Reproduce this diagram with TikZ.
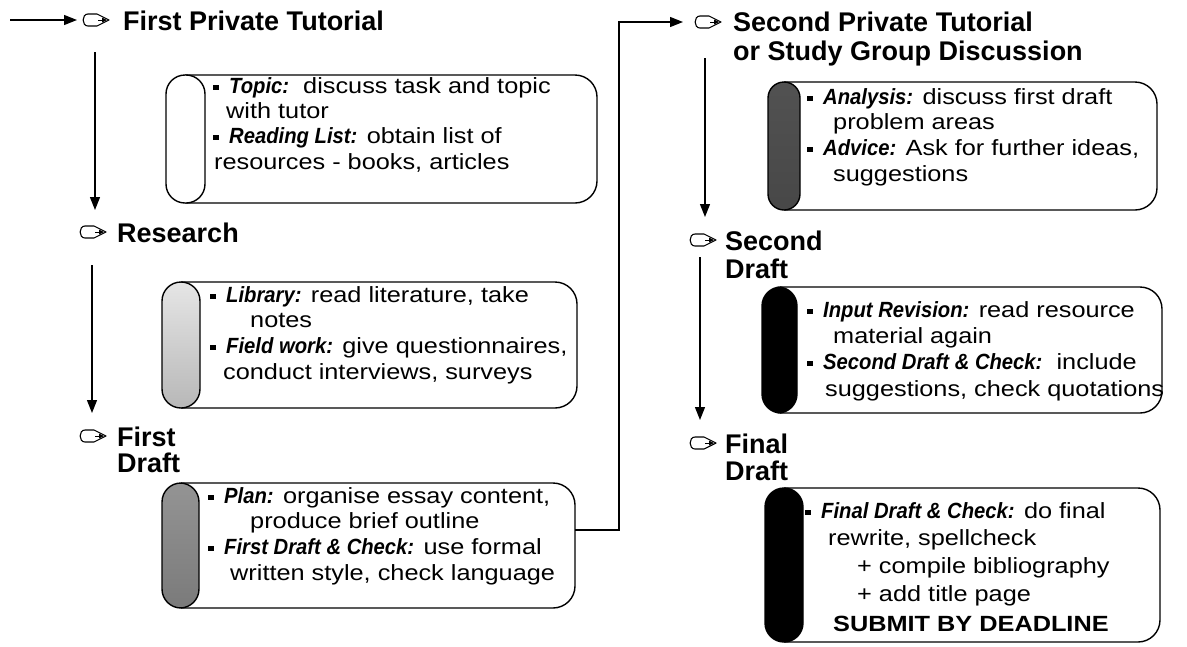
\documentclass[tikz,border=0pt]{standalone}
\usepackage{fontspec}
\setmainfont{Liberation Sans}
\newfontfamily\bodyf[FakeStretch=1.15]{Liberation Sans}
\newfontfamily\bif[FakeStretch=0.92]{Liberation Sans}
\usetikzlibrary{arrows.meta}

\newcommand\bul{\makebox[16pt][l]{\rule[4pt]{6pt}{5pt}}}
\newcommand\bi[1]{{\bif\bfseries\itshape #1}}

\tikzset{
  body/.style={anchor=mid west, inner sep=0pt, font=\bodyf\fontsize{22}{26}\selectfont},
  head/.style={anchor=base west, inner sep=0pt, font=\bfseries\fontsize{27}{30}\selectfont},
  conn/.style={line width=1.3pt, -{Triangle[length=13pt,width=10pt]}},
  boxline/.style={line width=1.4pt, rounded corners=22pt},
  capbox/.style={line width=1.4pt, rounded corners=19pt},
  pointer/.pic={
    \draw[line width=1.1pt, line join=round]
      (14,-6) -- (5,-6) .. controls (-1.5,-6) and (-1.5,6) .. (5,6) -- (14,6) -- (26,0) -- cycle;
    \draw[line width=1pt] (15,0) -- (21,0);
    \fill (19,-2.5) -- (24,0) -- (19,2.5) -- cycle;
  }
}

\begin{document}
\begin{tikzpicture}[x=1pt,y=-1pt]
\useasboundingbox (0,0) rectangle (1187,646);

% ---------- icons (coordinates) ----------
\coordinate (i1) at (83,20);
\coordinate (i2) at (80,232);
\coordinate (i3) at (80,436);
\coordinate (i4) at (695,22);
\coordinate (i5) at (690,240);
\coordinate (i6) at (690,443);
\foreach \c in {i1,i2,i3,i4,i5,i6} { \pic at (\c) {pointer}; }

% ---------- headings ----------
\node[head] (h1) at (123,30) {First Private Tutorial};
\node[head] (h2) at (117,242) {Research};
\node[head] (h3a) at (117,446) {First};
\node[head] (h3b) at (117,472) {Draft};
\node[head] (h4a) at (733,31) {Second Private Tutorial};
\node[head] (h4b) at (733,60) {or Study Group Discussion};
\node[head] (h5a) at (725,250) {Second};
\node[head] (h5b) at (725,278) {Draft};
\node[head] (h6a) at (725,453) {Final};
\node[head] (h6b) at (725,480) {Draft};

% ---------- boxes ----------
% box 1
\draw[boxline] (185,75) -- (597,75) -- (597,203) -- (185,203);
\draw[capbox, fill=white] (166,75) rectangle (205,203);
% box 2
\draw[boxline] (181,282) -- (577,282) -- (577,408) -- (181,408);
\shade[top color=black!10, bottom color=black!28, rounded corners=19pt] (162,282) rectangle (200,408);
\draw[capbox] (162,282) rectangle (200,408);
% box 3
\draw[boxline] (181,483) -- (575,483) -- (575,608) -- (181,608);
\shade[top color=black!42, bottom color=black!52, rounded corners=19pt] (162,483) rectangle (199,608);
\draw[capbox] (162,483) rectangle (199,608);
% box 4
\draw[boxline] (784,82) -- (1157,82) -- (1157,210) -- (784,210);
\shade[top color=black!68, bottom color=black!72, rounded corners=16pt] (768,82) rectangle (800,210);
\draw[capbox, rounded corners=16pt] (768,82) rectangle (800,210);
% box 5
\draw[boxline] (780,287) -- (1162,287) -- (1162,413) -- (780,413);
\draw[capbox, fill=black] (762,287) rectangle (797,413);
% box 6
\draw[boxline] (784,488) -- (1160,488) -- (1160,642) -- (784,642);
\draw[capbox, fill=black] (765,488) rectangle (803,642);

% ---------- box texts ----------
\node[body] (t11) at (213,91)  {\bul\bi{Topic:}\ \ discuss task and topic};
\node[body] (t12) at (226,116) {with tutor};
\node[body] (t13) at (213,141) {\bul\bi{Reading List:} obtain list of};
\node[body] (t14) at (214,167) {resources - books, articles};

\node[body] (t21) at (210,300) {\bul\bi{Library:} read literature, take};
\node[body] (t22) at (250,325) {notes};
\node[body] (t23) at (210,351) {\bul\bi{Field work:} give questionnaires,};
\node[body] (t24) at (223,377) {conduct interviews, surveys};

\node[body] (t31) at (208,501) {\bul\bi{Plan:} organise essay content,};
\node[body] (t32) at (250,526) {produce brief outline};
\node[body] (t33) at (208,552) {\bul\bi{First Draft \& Check:} use formal};
\node[body] (t34) at (230,578) {written style, check language};

\node[body] (t41) at (807,102) {\bul\bi{Analysis:} discuss first draft};
\node[body] (t42) at (833,127) {problem areas};
\node[body] (t43) at (807,153) {\bul\bi{Advice:} Ask for further ideas,};
\node[body] (t44) at (833,179) {suggestions};

\node[body] (t51) at (807,315) {\bul\bi{Input Revision:} read resource};
\node[body] (t52) at (833,341) {material again};
\node[body] (t53) at (807,367) {\bul\bi{Second Draft \& Check:}\ \ include};
\node[body] (t54) at (825,394) {suggestions, check quotations};

\node[body] (t61) at (805,516) {\bul\bi{Final Draft \& Check:} do final};
\node[body] (t62) at (828,543) {rewrite, spellcheck};
\node[body] (t63) at (857,571) {+ compile bibliography};
\node[body] (t64) at (857,599) {+ add title page};
\node[body] (t65) at (833,629) {\textbf{SUBMIT BY DEADLINE}};

% ---------- connectors ----------
\coordinate (s0) at (10,20);
\draw[conn] (s0) -- ([xshift=-6pt]i1);

\coordinate (v1a) at (95,52);
\coordinate (v1b) at (95,210);
\draw[conn] (v1a) -- (v1b);

\coordinate (v2a) at (92,265);
\coordinate (v2b) at (92,413);
\draw[conn] (v2a) -- (v2b);

\coordinate (c0) at (575,530);
\coordinate (c1) at (619,530);
\coordinate (c2) at (619,22);
\draw[conn] (c0) -- (c1) -- (c2) -- ([xshift=-12pt]i4);

\coordinate (v3a) at (705,58);
\coordinate (v3b) at (705,217);
\draw[conn] (v3a) -- (v3b);

\coordinate (v4a) at (700,257);
\coordinate (v4b) at (700,420);
\draw[conn] (v4a) -- (v4b);
\end{tikzpicture}
\end{document}
